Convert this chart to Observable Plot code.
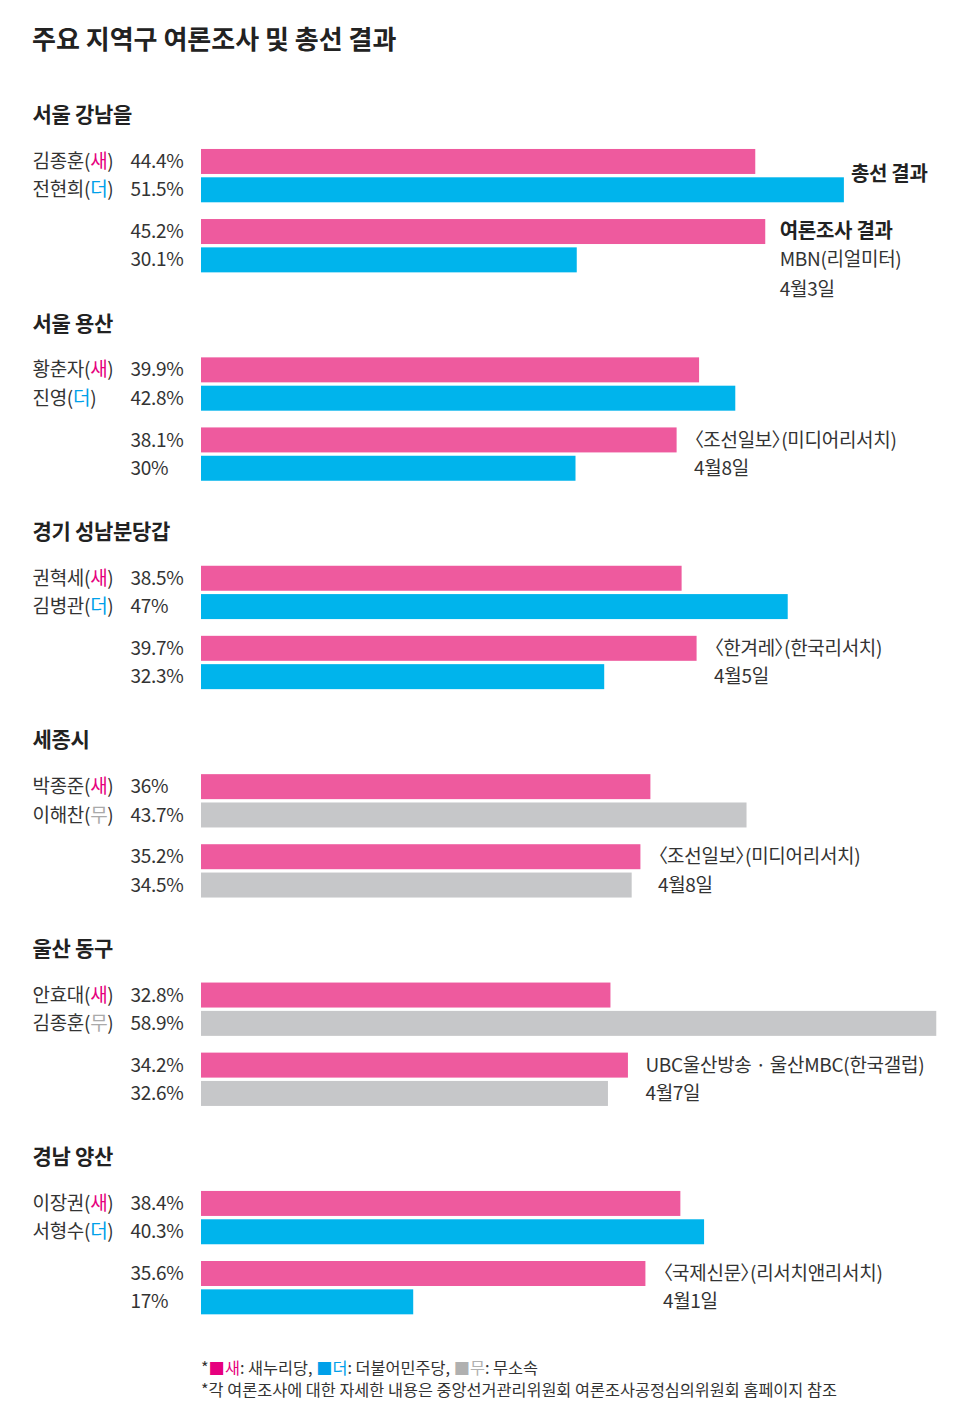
<!DOCTYPE html>
<html>
<head>
<meta charset="utf-8">
<script src="https://cdn.jsdelivr.net/npm/d3@7"></script>
<script src="https://cdn.jsdelivr.net/npm/@observablehq/plot@0.6"></script>
<style>
  body { margin: 0; background: #fff; font-family: "Noto Sans CJK KR", "Noto Sans", sans-serif; }
  #wrap { position: relative; width: 970px; height: 1428px; overflow: hidden; }
  #title { position: absolute; left: 32px; top: 22px; font-size: 26px; font-weight: 700; line-height: 32px; color: #222; letter-spacing: 0; }
  #chart { position: absolute; left: 0; top: 70px; }
  #chart text { letter-spacing: -0.3px; }
  #foot { position: absolute; left: 201px; top: 1356px; font-size: 16.3px; line-height: 22px; color: #333; letter-spacing: 0; }
</style>
</head>
<body>
<div id="wrap">
  <div id="title">주요 지역구 여론조사 및 총선 결과</div>
  <div id="chart"></div>
  <div id="foot">
    <div>*<span style="color:#E6007E">■새</span>: 새누리당, <span style="color:#00A0E9">■더</span>: 더불어민주당, <span style="color:#B0B0B0">■무</span>: 무소속</div>
    <div>*각 여론조사에 대한 자세한 내용은 중앙선거관리위원회 여론조사공정심의위원회 홈페이지 참조</div>
  </div>
</div>
<script>
// ---- data ----
const regions = ["서울 강남을", "서울 용산", "경기 성남분당갑", "세종시", "울산 동구", "경남 양산"];
const namesSae = ["김종훈", "황춘자", "권혁세", "박종준", "안효대", "이장권"];
const namesRival = ["전현희", "진영", "김병관", "이해찬", "김종훈", "서형수"];
const rivalParty = ["더", "더", "더", "무", "무", "더"];
const electionSae = [44.4, 39.9, 38.5, 36, 32.8, 38.4];
const electionRival = [51.5, 42.8, 47, 43.7, 58.9, 40.3];
const pollSae = [45.2, 38.1, 39.7, 35.2, 34.2, 35.6];
const pollRival = [30.1, 30, 32.3, 34.5, 32.6, 17];
const pollSource = ["MBN(리얼미터)", "〈조선일보〉(미디어리서치)", "〈한겨레〉(한국리서치)", "〈조선일보〉(미디어리서치)", "UBC울산방송 · 울산MBC(한국갤럽)", "〈국제신문〉(리서치앤리서치)"];
const pollDate = ["4월3일", "4월8일", "4월5일", "4월8일", "4월7일", "4월1일"];
const headerElection = "총선 결과";
const headerPoll = "여론조사 결과";
const parties = ["새", "더", "무"];
const barColors = ["#EE5A9E", "#00B4EC", "#C6C7C9"];
const letterColors = {"새": "#E6007E", "더": "#00A0E9", "무": "#AAAAAA"};

// ---- tables ----
const rows = regions.flatMap((r, i) => [
  {region: r, row: "e0", kind: "e", party: "새", name: `${namesSae[i]}(새)`, value: electionSae[i]},
  {region: r, row: "e1", kind: "e", party: rivalParty[i], name: `${namesRival[i]}(${rivalParty[i]})`, value: electionRival[i]},
  {region: r, row: "p0", kind: "p", party: "새", value: pollSae[i]},
  {region: r, row: "p1", kind: "p", party: rivalParty[i], value: pollRival[i]}
]);
const eRows = rows.filter(d => d.kind === "e");
const pRows = rows.filter(d => d.kind === "p");
const notes = regions.map((r, i) => ({
  region: r, source: pollSource[i], date: pollDate[i],
  x: Math.max(pollSae[i], pollRival[i]), ex: electionRival[i], first: i === 0
}));
const firstNote = notes.filter(d => d.first);
const otherNotes = notes.filter(d => !d.first);

const GAP = 13.4;       // extra space between election pair and poll pair
const INSET = 1.67;
const txt = "#333";

const chart = Plot.plot({
  width: 970,
  height: 1265,
  marginLeft: 201,
  marginRight: 20,
  marginTop: 77.3,
  marginBottom: 32.4,
  x: {domain: [0, 60], axis: null},
  y: {domain: ["e0", "e1", "p0", "p1"], padding: 0, round: false, axis: null},
  fy: {domain: regions, paddingInner: 0.4562, paddingOuter: 0, round: false, axis: null},
  color: {domain: parties, range: barColors},
  style: {fontFamily: "'Noto Sans CJK KR', 'Noto Sans', sans-serif", fontSize: "19px", color: txt, background: "transparent"},
  marks: [
    Plot.barX(eRows, {x: "value", y: "row", fy: "region", fill: "party", insetTop: INSET, insetBottom: INSET}),
    Plot.barX(pRows, {x: "value", y: "row", fy: "region", fill: "party", insetTop: INSET, insetBottom: INSET, dy: GAP}),
    Plot.text(eRows, {y: "row", fy: "region", text: "name", frameAnchor: "left", textAnchor: "start", dx: -169, fill: txt}),
    Plot.text(eRows, {y: "row", fy: "region", text: d => `${d.value}%`, frameAnchor: "left", textAnchor: "start", dx: -71, fill: txt}),
    Plot.text(pRows, {y: "row", fy: "region", text: d => `${d.value}%`, frameAnchor: "left", textAnchor: "start", dx: -71, dy: GAP, fill: txt}),
    Plot.text(regions, {fy: d => d, text: d => d, frameAnchor: "top-left", textAnchor: "start", lineAnchor: "middle", dx: -169, dy: -32.3, fontWeight: "bold", fontSize: 21, fill: "#222"}),
    Plot.text(otherNotes, {x: "x", y: () => "p0", fy: "region", text: "source", textAnchor: "start", dx: 17, dy: GAP, fill: txt}),
    Plot.text(otherNotes, {x: "x", y: () => "p1", fy: "region", text: "date", textAnchor: "start", dx: 17, dy: GAP, fill: txt}),
    Plot.text(firstNote, {x: "x", y: () => "p0", fy: "region", text: () => headerPoll, textAnchor: "start", dx: 14, dy: GAP, fontWeight: "bold", fontSize: 20, fill: "#222"}),
    Plot.text(firstNote, {x: "x", y: () => "p1", fy: "region", text: "source", textAnchor: "start", dx: 14, dy: GAP, fill: txt}),
    Plot.text(firstNote, {x: "x", y: () => "p1", fy: "region", text: "date", textAnchor: "start", dx: 14, dy: GAP + 29.5, fill: txt}),
    Plot.text(firstNote, {x: "ex", y: () => "e1", fy: "region", text: () => headerElection, textAnchor: "start", dx: 6.5, dy: -16, fontWeight: "bold", fontSize: 20, fill: "#222"})
  ]
});

// colour the party letter inside the candidate names; proportional CJK brackets in sources
d3.select(chart).selectAll("text").each(function() {
  const t = this.textContent;
  if (t.includes("〈")) this.style.fontFeatureSettings = '"palt"';
  const m = /^(.+)\((새|더|무)\)$/.exec(t);
  if (!m) return;
  const sel = d3.select(this);
  sel.text(null);
  sel.append("tspan").text(m[1] + "(");
  sel.append("tspan").attr("fill", letterColors[m[2]]).text(m[2]);
  sel.append("tspan").text(")");
});

document.getElementById("chart").appendChild(chart);
</script>
</body>
</html>
